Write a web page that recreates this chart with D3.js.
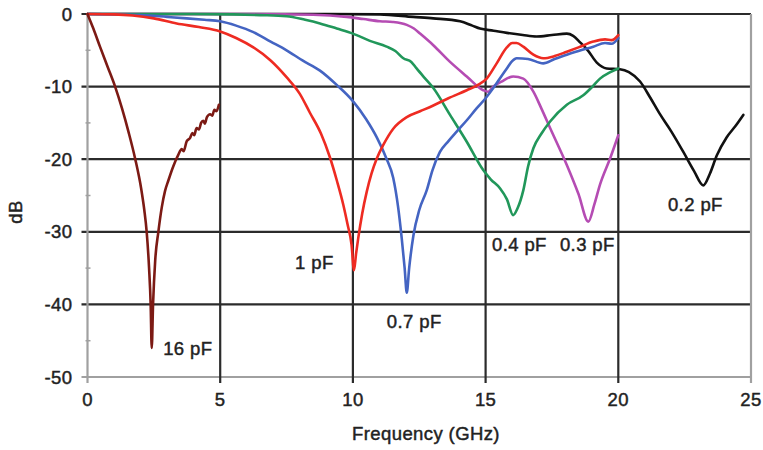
<!DOCTYPE html>
<html>
<head>
<meta charset="utf-8">
<script src="https://cdn.jsdelivr.net/npm/d3@7"></script>
<style>
  html, body { margin: 0; padding: 0; background: #fff; }
  svg { display: block; }
  text {
    font-family: "Liberation Sans", Arial, Helvetica, sans-serif;
    fill: #222; stroke: #222; stroke-width: 0.45px; letter-spacing: 0.4px;
  }
</style>
</head>
<body>
<svg id="chart" width="763" height="450"></svg>
<script>
// Measured insertion loss (dB) versus frequency (GHz) for shunt capacitors of different values.
// Each series is a list of [frequency GHz, dB] pairs.
const s16pF = [
  [0, 0], [0.22, -2], [0.47, -4.5], [0.75, -7.2], [1.04, -10], [1.3, -13], [1.55, -16.3], [1.8, -20],
  [2.02, -24], [2.14, -27], [2.23, -30], [2.32, -35], [2.38, -40], [2.42, -46], [2.47, -40],
  [2.55, -34], [2.67, -30], [2.8, -26.6], [2.92, -24.4], [3.05, -22.9], [3.23, -21], [3.42, -19.4],
  [3.55, -18.6], [3.62, -18.9], [3.74, -17.5], [3.86, -17.1], [3.95, -16.4], [4.02, -16.7],
  [4.11, -15.7], [4.2, -15.9], [4.28, -15.0], [4.36, -14.7], [4.42, -15.1], [4.5, -14.2],
  [4.62, -13.8], [4.7, -14.0], [4.78, -13.2], [4.86, -13.4], [4.95, -12.5]
];
const s1pF = [
  [0, 0], [1, -0.05], [1.7, -0.2], [2.5, -0.6], [3.36, -1.3], [4.2, -1.8], [5, -2.4], [5.6, -3.3],
  [6.25, -4.6], [6.9, -6.4], [7.5, -8.7], [8, -11], [8.38, -13.6], [8.8, -16.5], [9.13, -19.7],
  [9.4, -23], [9.64, -26.3], [9.8, -29], [9.95, -31.8], [10.04, -35.3], [10.12, -33], [10.2, -30.9],
  [10.35, -27.5], [10.52, -24.5], [10.7, -22], [10.9, -19.9], [11.15, -18], [11.52, -15.8],
  [12.03, -14.2], [12.53, -13.4], [13.03, -12.6], [13.6, -11.6], [14.29, -10.5], [14.7, -9.8],
  [15.04, -8.9], [15.4, -6.9], [15.8, -4.6], [16.0, -4.0], [16.17, -4.0], [16.42, -4.5],
  [16.8, -5.6], [17.17, -6.1], [17.6, -5.8], [18.06, -5.2], [18.5, -4.6], [19.06, -3.8],
  [19.5, -3.5], [19.75, -3.6], [20, -2.9]
];
const s07pF = [
  [0, 0], [2, -0.15], [3, -0.4], [3.74, -0.6], [4.4, -0.8], [5, -1.0], [5.6, -1.6], [6.25, -2.5],
  [6.9, -3.8], [7.5, -5.0], [8.1, -6.4], [8.76, -7.8], [9.4, -9.8], [10.0, -12.0], [10.5, -14.5],
  [10.9, -17.0], [11.25, -19.8], [11.52, -22.6], [11.7, -26.5], [11.84, -30.9], [11.95, -35],
  [12.03, -38.4], [12.12, -35], [12.28, -30.5], [12.5, -27], [12.78, -24.3], [13.0, -21.5],
  [13.28, -19.0], [13.6, -17.5], [13.91, -16.2], [14.3, -14.6], [14.66, -13.0], [15.0, -11.6],
  [15.29, -10.2], [15.55, -8.8], [15.8, -7.5], [16.0, -6.5], [16.17, -6.1], [16.6, -6.2],
  [17.17, -6.8], [17.6, -6.2], [18.06, -5.6], [18.5, -5.1], [19.06, -4.5], [19.5, -4.0],
  [19.75, -4.1], [20, -3.3]
];
const s04pF = [
  [0, 0], [4, 0], [5.5, -0.05], [6.5, -0.15], [7.5, -0.3], [8.2, -0.8], [8.76, -1.3], [9.39, -2.0],
  [10.0, -2.7], [10.64, -3.7], [11.27, -4.5], [11.6, -5.1], [11.9, -6.1], [12.2, -6.6],
  [12.4, -7.5], [12.7, -8.8], [13.03, -10.2], [13.66, -13.9], [14.29, -17.6], [14.91, -21.5],
  [15.2, -22.8], [15.54, -24.0], [15.8, -25.5], [16.04, -27.7], [16.2, -26.8], [16.42, -24.3],
  [16.6, -21], [16.8, -18.5], [17.1, -16.5], [17.43, -14.8], [18.06, -12.5], [18.68, -11.2],
  [19.0, -10.1], [19.31, -8.9], [19.7, -8.0], [20, -7.5]
];
const s03pF = [
  [0, 0], [6, 0], [8.5, -0.1], [9.77, -0.4], [10.4, -0.7], [11.02, -1.0], [11.5, -1.1],
  [12.03, -1.5], [12.3, -2.0], [12.53, -2.7], [13.03, -4.3], [13.66, -6.6], [14.29, -8.6],
  [14.91, -10.5], [15.1, -10.7], [15.29, -10.0], [15.6, -9.3], [16.04, -8.6], [16.42, -8.9],
  [16.8, -10.7], [17.1, -13], [17.43, -15.7], [18.06, -20.8], [18.5, -24.8], [18.87, -28.6],
  [19.1, -26.2], [19.31, -23.5], [19.7, -19.8], [20, -16.7]
];
const s02pF = [
  [0, 0], [9, 0], [11.02, -0.05], [12.27, -0.4], [13.03, -0.6], [14.04, -1.0], [14.5, -1.6],
  [14.79, -2.0], [15.3, -2.3], [15.8, -2.6], [16.4, -2.9], [16.92, -3.1], [17.5, -2.9],
  [18.06, -2.7], [18.3, -3.0], [18.56, -3.9], [18.85, -5.0], [19.19, -6.7], [19.56, -7.5],
  [20.06, -7.6], [20.4, -8.0], [20.82, -9.3], [21.2, -11.5], [21.57, -13.8], [22.0, -16.2],
  [22.45, -19.0], [22.85, -21.6], [23.2, -23.6], [23.45, -22], [23.71, -19.5], [24.08, -17.0],
  [24.4, -15.5], [24.71, -13.9]
];

// Drawn back to front
const seriesData = [s02pF, s03pF, s04pF, s07pF, s1pF, s16pF];
const seriesColors = ["#111111", "#b54cb3", "#21975a", "#4464c2", "#ee2b22", "#7c1a14"];

// Capacitor value labels, anchored in data units (start of text, vertical middle)
const labelText = ["16 pF", "1 pF", "0.7 pF", "0.4 pF", "0.3 pF", "0.2 pF"];
const labelFreq = [2.85, 7.82, 11.28, 15.24, 17.8, 21.87];
const labelDb = [-46.1, -34.2, -42.3, -31.7, -31.7, -26.2];

const xTicks = [0, 5, 10, 15, 20, 25];
const yTicks = [0, -10, -20, -30, -40, -50];
const yMinorTicks = [-5, -15, -25, -35, -45];

const svg = d3.select("#chart");
const x = d3.scaleLinear().domain([0, 25]).range([87.5, 751]);
const y = d3.scaleLinear().domain([-50, 0]).range([377, 14]);

const FS = "18.5px";
const gridColor = "#2b2b2b";
const axisColor = "#a0a0a0";

// Horizontal grid lines (with tick stubs to the left of the axis)
svg.append("g").selectAll("line").data(yTicks).join("line")
  .attr("x1", x(0) - 6).attr("x2", x(25))
  .attr("y1", d => y(d)).attr("y2", d => y(d))
  .attr("stroke", d => d === -50 ? axisColor : gridColor)
  .attr("stroke-width", 2.2);

// Vertical grid lines (with tick stubs below the axis)
svg.append("g").selectAll("line").data(xTicks).join("line")
  .attr("x1", d => x(d)).attr("x2", d => x(d))
  .attr("y1", y(0)).attr("y2", y(-50) + 6)
  .attr("stroke", d => (d === 0 || d === 25) ? axisColor : gridColor)
  .attr("stroke-width", 2.2);

// Minor ticks on the dB axis
svg.append("g").selectAll("line").data(yMinorTicks).join("line")
  .attr("x1", x(0) - 2).attr("x2", x(0) + 3)
  .attr("y1", d => y(d)).attr("y2", d => y(d))
  .attr("stroke", axisColor).attr("stroke-width", 1.5);

// Axis tick labels
svg.append("g").selectAll("text").data(yTicks).join("text")
  .attr("x", x(0) - 15).attr("y", d => y(d)).attr("dy", "0.36em")
  .attr("text-anchor", "end").style("font-size", FS)
  .text(d => d);

svg.append("g").selectAll("text").data(xTicks).join("text")
  .attr("x", d => x(d)).attr("y", y(-50) + 29)
  .attr("text-anchor", "middle").style("font-size", FS)
  .text(d => d);

// Axis titles
svg.append("text")
  .attr("x", 426).attr("y", 440)
  .attr("text-anchor", "middle").style("font-size", FS)
  .text("Frequency (GHz)");

svg.append("text")
  .attr("transform", "translate(22,212) rotate(-90)")
  .attr("text-anchor", "middle").style("font-size", FS)
  .text("dB");

// Measurement curves
const line = d3.line().x(d => x(d[0])).y(d => y(d[1])).curve(d3.curveMonotoneX);
svg.append("g").selectAll("path").data(seriesData).join("path")
  .attr("d", line)
  .attr("fill", "none")
  .attr("stroke", (d, i) => seriesColors[i])
  .attr("stroke-width", 2.6)
  .attr("stroke-linejoin", "round")
  .attr("stroke-linecap", "round");

// Curve labels
svg.append("g").selectAll("text").data(labelText).join("text")
  .attr("x", (d, i) => x(labelFreq[i]))
  .attr("y", (d, i) => y(labelDb[i]))
  .attr("dy", "0.36em")
  .style("font-size", FS)
  .text(d => d);
</script>
</body>
</html>
